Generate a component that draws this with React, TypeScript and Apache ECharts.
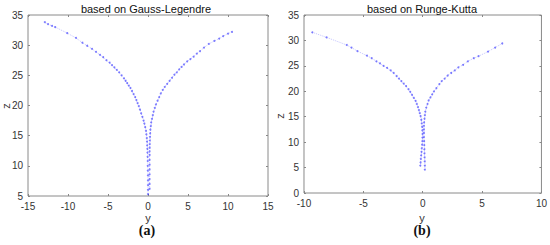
import React, { useEffect, useRef } from "react";
import * as echarts from "echarts";

const glLeft: number[][] = [[-12.9,33.8],[-12.5,33.5],[-12.0,33.2],[-11.6,33.0],[-10.1,32.0],[-9.0,31.2],[-8.2,30.4],[-7.6,29.9],[-7.0,29.4],[-6.5,28.9],[-6.0,28.4],[-5.6,28.0],[-5.2,27.5],[-4.8,27.1],[-4.5,26.7],[-4.2,26.3],[-3.9,25.9],[-3.6,25.5],[-3.3,25.0],[-3.0,24.5],[-2.8,24.1],[-2.6,23.7],[-2.4,23.3],[-2.2,22.9],[-2.0,22.4],[-1.8,21.9],[-1.6,21.4],[-1.45,20.9],[-1.3,20.4],[-1.15,19.9],[-1.0,19.3],[-0.85,18.7],[-0.7,18.1],[-0.55,17.5],[-0.45,17.0],[-0.35,16.4],[-0.25,15.8],[-0.2,15.2],[-0.15,14.6],[-0.12,14.0],[-0.1,13.4],[-0.08,12.8],[-0.06,12.2],[-0.05,11.5],[-0.04,10.8],[-0.03,10.0],[-0.02,9.2],[-0.01,8.4],[0,7.6],[0,6.8],[0,6.0],[0,5.3]];
const glRight: number[][] = [[10.5,32.2],[10.0,31.9],[9.4,31.5],[8.9,31.1],[8.3,30.7],[7.6,30.2],[7.0,29.6],[6.5,29.0],[6.1,28.6],[5.7,28.1],[5.3,27.7],[4.9,27.3],[4.5,26.8],[4.2,26.4],[3.9,26.0],[3.6,25.5],[3.3,25.1],[3.0,24.6],[2.7,24.1],[2.4,23.6],[2.1,23.1],[1.85,22.6],[1.6,22.0],[1.4,21.4],[1.2,20.8],[1.0,20.2],[0.85,19.6],[0.7,19.0],[0.6,18.4],[0.5,17.8],[0.4,17.2],[0.35,16.6],[0.3,16.0],[0.27,15.4],[0.25,14.8],[0.23,14.2],[0.22,13.6],[0.21,13.0],[0.2,12.4],[0.2,11.8],[0.2,11.0],[0.2,10.2],[0.2,9.4],[0.2,8.6],[0.2,7.8],[0.2,7.0],[0.2,6.2]];
const rkLeft: number[][] = [[-9.3,31.6],[-8.1,30.6],[-6.4,29.1],[-6.0,28.6],[-5.5,27.9],[-4.7,27.0],[-4.3,26.5],[-3.9,25.9],[-3.6,25.5],[-3.3,25.0],[-3.0,24.6],[-2.7,24.1],[-2.45,23.6],[-2.2,23.0],[-2.0,22.5],[-1.8,22.0],[-1.6,21.5],[-1.4,21.0],[-1.2,20.4],[-1.05,19.9],[-0.9,19.3],[-0.75,18.7],[-0.6,18.1],[-0.5,17.5],[-0.4,16.9],[-0.32,16.3],[-0.25,15.7],[-0.18,15.1],[-0.12,14.4],[-0.08,13.7],[-0.05,13.0],[-0.03,12.3],[-0.02,11.6],[-0.02,10.9],[-0.03,10.2],[-0.05,9.5],[-0.08,8.8],[-0.1,8.1],[-0.13,7.4],[-0.16,6.7],[-0.18,6.0],[-0.2,5.4]];
const rkRight: number[][] = [[6.7,29.4],[6.1,28.6],[5.5,27.8],[4.7,26.9],[4.3,26.5],[3.8,25.9],[3.4,25.2],[3.0,24.7],[2.7,24.1],[2.4,23.6],[2.1,23.1],[1.85,22.5],[1.6,22.0],[1.4,21.4],[1.15,20.6],[0.95,20.0],[0.8,19.4],[0.65,18.8],[0.5,18.2],[0.4,17.5],[0.3,16.8],[0.22,16.0],[0.18,15.3],[0.15,14.6],[0.12,13.9],[0.1,13.2],[0.1,12.5],[0.1,11.8],[0.1,11.0],[0.12,10.2],[0.13,9.4],[0.14,8.6],[0.15,7.8],[0.16,7.0],[0.17,6.2],[0.18,5.4],[0.18,4.6]];

const titles = ["based on Gauss-Legendre", "based on Runge-Kutta"];
const captions = ["(a)", "(b)"];

export default function App() {
  const ref = useRef<HTMLDivElement>(null);
  useEffect(() => {
    document.body.style.margin = "0";
    const chart = echarts.init(ref.current!, null, { renderer: "svg" });
    const font = "Liberation Sans, Arial, sans-serif";
    const axisCommon = {
      type: "value",
      axisLine: { show: false, onZero: false },
      axisTick: { inside: true, length: 2, lineStyle: { color: "#888" } },
      splitLine: { show: false },
      axisLabel: { color: "#333", fontSize: 10, fontFamily: font, margin: 5 },
    };
    const noLabel = { ...axisCommon, axisLabel: { show: false } };
    const grids = [
      { left: 28, top: 15, width: 240, height: 181 },
      { left: 304, top: 15, width: 238, height: 178 },
    ].map((g) => ({ ...g, show: true, borderColor: "#8a8a8a", borderWidth: 1, backgroundColor: "transparent" }));
    const sym = (data: number[][], gi: number) => ({
      type: "scatter",
      xAxisIndex: gi,
      yAxisIndex: gi,
      data,
      symbolSize: 2,
      itemStyle: { color: "#2a2aff", opacity: 0.6 },
    });
    const line = (data: number[][], gi: number) => ({
      type: "line",
      xAxisIndex: gi,
      yAxisIndex: gi,
      data,
      showSymbol: false,
      lineStyle: { color: "#5a5aff", width: 1, opacity: 0.35, type: [1, 1] },
    });
    const xr = [[-15, 15], [-10, 10]];
    const yr = [[5, 35], [0, 35]];
    chart.setOption({
      animation: false,
      grid: grids,
      xAxis: [
        { ...axisCommon, gridIndex: 0, min: xr[0][0], max: xr[0][1], interval: 5 },
        { ...axisCommon, gridIndex: 1, min: xr[1][0], max: xr[1][1], interval: 5 },
        { ...noLabel, gridIndex: 0, position: "top", min: xr[0][0], max: xr[0][1], interval: 5 },
        { ...noLabel, gridIndex: 1, position: "top", min: xr[1][0], max: xr[1][1], interval: 5 },
      ],
      yAxis: [
        { ...axisCommon, gridIndex: 0, min: yr[0][0], max: yr[0][1], interval: 5 },
        { ...axisCommon, gridIndex: 1, min: yr[1][0], max: yr[1][1], interval: 5 },
        { ...noLabel, gridIndex: 0, position: "right", min: yr[0][0], max: yr[0][1], interval: 5 },
        { ...noLabel, gridIndex: 1, position: "right", min: yr[1][0], max: yr[1][1], interval: 5 },
      ],
      series: [
        line(glLeft, 0), line(glRight, 0), sym(glLeft, 0), sym(glRight, 0),
        line(rkLeft, 1), line(rkRight, 1), sym(rkLeft, 1), sym(rkRight, 1),
      ],
      graphic: [
        { type: "text", x: 146, y: 9, style: { text: titles[0], font: `11px ${font}`, fill: "#111", align: "center", verticalAlign: "middle" } },
        { type: "text", x: 422, y: 9, style: { text: titles[1], font: `11px ${font}`, fill: "#111", align: "center", verticalAlign: "middle" } },
        { type: "text", x: 148, y: 218, style: { text: "y", font: `11px ${font}`, fill: "#333", align: "center", verticalAlign: "middle" } },
        { type: "text", x: 422, y: 218, style: { text: "y", font: `11px ${font}`, fill: "#333", align: "center", verticalAlign: "middle" } },
        { type: "text", x: 6, y: 106, rotation: Math.PI / 2, style: { text: "z", font: `11px ${font}`, fill: "#333", align: "center", verticalAlign: "middle" } },
        { type: "text", x: 280, y: 116, rotation: Math.PI / 2, style: { text: "z", font: `11px ${font}`, fill: "#333", align: "center", verticalAlign: "middle" } },
        { type: "text", x: 147, y: 230, style: { text: captions[0], font: `bold 14px "Liberation Serif", serif`, fill: "#111", align: "center", verticalAlign: "middle" } },
        { type: "text", x: 422, y: 230, style: { text: captions[1], font: `bold 14px "Liberation Serif", serif`, fill: "#111", align: "center", verticalAlign: "middle" } },
      ],
    });
    return () => chart.dispose();
  }, []);
  return <div ref={ref} style={{ width: 550, height: 245 }} />;
}
